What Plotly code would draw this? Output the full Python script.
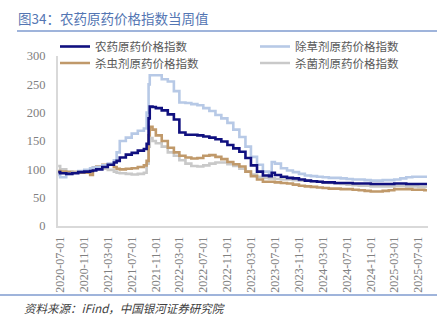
import plotly.graph_objects as go

dates = [
    "2020-06-21", "2020-07-01", "2020-08-01", "2020-09-01", "2020-10-01", "2020-11-01",
    "2020-12-01", "2020-12-15", "2021-01-01", "2021-02-01", "2021-03-01", "2021-04-01",
    "2021-04-15", "2021-05-01", "2021-06-01", "2021-07-01", "2021-08-01", "2021-09-01",
    "2021-09-15", "2021-09-25", "2021-10-01", "2021-10-15", "2021-11-01", "2021-12-01",
    "2022-01-01", "2022-02-01", "2022-03-01", "2022-04-01", "2022-05-01", "2022-06-01",
    "2022-07-01", "2022-08-01", "2022-09-01", "2022-10-01", "2022-11-01", "2022-12-01",
    "2023-01-01", "2023-02-01", "2023-03-01", "2023-04-01", "2023-05-01", "2023-06-01",
    "2023-06-15", "2023-07-01", "2023-08-01", "2023-09-01", "2023-10-01", "2023-11-01",
    "2023-12-01", "2024-01-01", "2024-02-01", "2024-03-01", "2024-04-01", "2024-05-01",
    "2024-06-01", "2024-07-01", "2024-08-01", "2024-09-01", "2024-10-01", "2024-11-01",
    "2024-12-01", "2025-01-01", "2025-02-01", "2025-03-01", "2025-04-01", "2025-05-01",
    "2025-06-01", "2025-07-01", "2025-08-01", "2025-08-15",
]

pesticide_all = [
    95, 93, 92, 93, 95, 96, 97, 98, 100, 104, 108, 112,
    115, 121, 126, 129, 133, 136, 145, 190, 211, 210, 208, 204,
    197, 188, 165, 161, 161, 160, 158, 156, 153, 149, 143, 137,
    131, 120, 107, 96, 89, 88, 94, 90, 87, 85, 84, 82,
    80, 79, 78, 77, 77, 76, 76, 76, 75, 75, 75, 74,
    74, 74, 74, 75, 75, 74, 74, 74, 74, 74,
]

herbicide = [
    90, 86, 92, 94, 97, 99, 102, 103, 104, 107, 110, 116,
    130, 150, 156, 163, 168, 172, 200, 250, 266, 266, 266, 259,
    255, 238, 218, 217, 215, 213, 208, 203, 196, 190, 182, 170,
    157, 140, 122, 108, 96, 92, 113, 110, 102, 98, 95, 92,
    89, 88, 87, 86, 85, 85, 84, 83, 82, 82, 81, 80,
    80, 81, 81, 82, 84, 86, 87, 87, 87, 87,
]

insecticide = [
    97, 96, 95, 95, 94, 94, 90, 103, 105, 108, 109, 104,
    101, 100, 101, 102, 104, 107, 115, 160, 175, 170, 160, 150,
    138, 130, 124, 121, 119, 120, 124, 125, 122, 118, 113, 109,
    105, 96, 88, 82, 78, 78, 78, 77, 76, 75, 73, 71,
    70, 69, 68, 67, 66, 66, 65, 65, 64, 63, 62, 61,
    61, 62, 63, 65, 65, 65, 64, 64, 63, 63,
]

fungicide = [
    106, 100, 96, 95, 96, 98, 101, 101, 102, 101, 99, 96,
    94, 93, 92, 91, 92, 94, 110, 140, 155, 150, 146, 140,
    130, 124, 116, 110, 106, 105, 107, 110, 112, 112, 109, 106,
    101, 96, 91, 87, 85, 84, 84, 83, 82, 82, 81, 80,
    80, 79, 78, 77, 76, 75, 74, 73, 72, 71, 71, 70,
    70, 70, 70, 71, 71, 70, 70, 69, 69, 69,
]

tick_labels = [
    "2020-07-01", "2020-11-01", "2021-03-01", "2021-07-01", "2021-11-01",
    "2022-03-01", "2022-07-01", "2022-11-01", "2023-03-01", "2023-07-01",
    "2023-11-01", "2024-03-01", "2024-07-01", "2024-11-01", "2025-03-01",
    "2025-07-01",
]

W, H = 444, 326
L, R, T, B = 58, 16, 56, 100
pw, ph = W - L - R, H - T - B


def px_x(p):
    return (p - L) / pw


def px_y(p):
    return (H - B - p) / ph


CJK = "Noto Sans CJK SC"

# name, values, colour, legend id, legend pixel position (left, top)
series = [
    ("杀菌剂原药价格指数", fungicide, "#c9c9c9", "legend4", (255, 48.5)),
    ("杀虫剂原药价格指数", insecticide, "#c0996a", "legend3", (55, 48.5)),
    ("除草剂原药价格指数", herbicide, "#b7c9e6", "legend2", (255, 32)),
    ("农药原药价格指数", pesticide_all, "#10107f", "legend", (55, 32)),
]

fig = go.Figure()
legend_cfg = {}
for name, vals, color, leg, (lx, ly) in series:
    fig.add_trace(go.Scatter(
        x=dates, y=vals, name=name, mode="lines",
        line=dict(color=color, width=2.6, shape="hv"),
        legend=leg,
    ))
    legend_cfg[leg] = dict(
        x=px_x(lx), y=px_y(ly), xanchor="left", yanchor="top",
        bgcolor="rgba(0,0,0,0)",
        font=dict(size=11.5, color="#595959", family=CJK),
        tracegroupgap=0, itemwidth=30,
    )

fig.update_layout(
    width=W, height=H,
    margin=dict(l=L, r=R, t=T, b=B),
    paper_bgcolor="white", plot_bgcolor="white",
    font=dict(family=CJK, color="#595959", size=12),
    showlegend=True,
    xaxis=dict(
        type="date", range=["2020-06-20", "2025-08-20"],
        tickvals=tick_labels, ticktext=tick_labels, tickangle=-90,
        showgrid=False, zeroline=False,
        showline=True, linecolor="#d9d9d9", linewidth=2,
        ticks="outside", ticklen=4, tickcolor="rgba(0,0,0,0)",
        tickfont=dict(family="Liberation Serif", size=12, color="#808080"),
    ),
    yaxis=dict(
        range=[0, 300], tickvals=[0, 50, 100, 150, 200, 250, 300],
        showgrid=False, zeroline=False,
        showline=True, linecolor="#d9d9d9", linewidth=2,
        ticks="outside", ticklen=8, tickcolor="rgba(0,0,0,0)",
        tickfont=dict(family="Liberation Serif", size=12.5, color="#808080"),
    ),
    **legend_cfg,
)

fig.add_shape(type="line", xref="paper", yref="paper",
              x0=px_x(17), x1=px_x(437), y0=px_y(31), y1=px_y(31),
              line=dict(color="#7f9bcf", width=1.5))
fig.add_shape(type="line", xref="paper", yref="paper",
              x0=px_x(0), x1=px_x(437), y0=px_y(295), y1=px_y(295),
              line=dict(color="#7f9bcf", width=1.5))

fig.add_annotation(
    text="图34：农药原药价格指数当周值", xref="paper", yref="paper",
    x=px_x(16), y=px_y(18), xanchor="left", yanchor="middle", showarrow=False,
    font=dict(family=CJK, size=13.5, color="#5476b3"),
)
fig.add_annotation(
    text="<i>资料来源：iFind，中国银河证券研究院</i>", xref="paper", yref="paper",
    x=px_x(22), y=px_y(308), xanchor="left", yanchor="middle", showarrow=False,
    font=dict(family=CJK, size=11.5, color="#404040"),
)

fig.write_html("out.html")
